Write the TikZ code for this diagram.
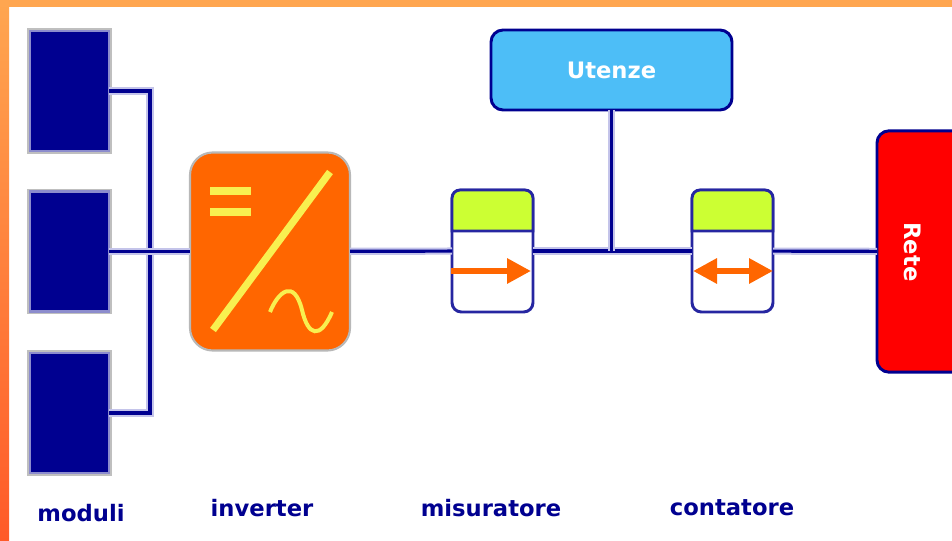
\documentclass[tikz,border=0pt]{standalone}
\usepackage{fontspec}
\setmainfont{DejaVu Sans}
\usetikzlibrary{arrows.meta}
\definecolor{bluNavy}{HTML}{000090}
\definecolor{aloneLine}{HTML}{C4C4EA}
\definecolor{aranInv}{HTML}{FF6600}
\definecolor{gialloInv}{HTML}{F8F050}
\definecolor{verdeMis}{HTML}{CCFF33}
\definecolor{azzUte}{HTML}{4DBEF7}
\definecolor{bordoAlto}{HTML}{FFA650}
\definecolor{bordoBasso}{HTML}{FF5A28}
\tikzset{every picture/.style={line width=0.75pt},
  bus/.style={draw=bluNavy,line width=2.4pt,preaction={draw=aloneLine,line width=5.4pt}},
  modulo/.style={rectangle,fill=bluNavy,draw=bluNavy!45!white,line width=1.6pt,minimum width=59.25pt,minimum height=90pt,inner sep=0pt,outer sep=0pt,preaction={draw=black!25,line width=4pt}},
  contabox/.style={rectangle,rounded corners=7pt,fill=white,draw=bluNavy!85!white,line width=2.2pt,minimum width=60.75pt,minimum height=91.5pt,inner sep=0pt,outer sep=0pt},
  fascia/.style={fill=verdeMis,draw=bluNavy!85!white,line width=2.2pt},
  freccia/.style={draw=aranInv,line width=5pt},
  giallo/.style={draw=gialloInv,line width=5.4pt},
  etichetta/.style={text=bluNavy,inner sep=0pt,font=\bfseries\fontsize{17}{20}\selectfont}}

\begin{document}
\begin{tikzpicture}[x=0.75pt,y=0.75pt,yscale=-1,xscale=1]
\useasboundingbox (0,0) rectangle (952,541);
\fill[white] (0,0) rectangle (952,541);
%Shape: Border
\fill[top color=bordoAlto,bottom color=bordoBasso] (0,0) rectangle (9,541);
\fill[bordoAlto] (0,0) rectangle (952,7);
%Shape: Modules
\node (modulo1) [modulo] at (69.5,91) {};
\node (modulo2) [modulo] at (69.5,251.5) {};
\node (modulo3) [modulo] at (69.5,413) {};
%Shape: Inverter
\node (inverter) [rectangle,rounded corners=17pt,fill=aranInv,draw=black!28,line width=1.6pt,minimum width=120pt,minimum height=148.5pt,inner sep=0pt,outer sep=0pt] at (270,251.5) {};
\draw [giallo] (213,330) -- (330,172);
\draw [giallo,line width=6pt] (210,191) -- (251,191);
\draw [giallo,line width=6pt] (210,212) -- (251,212);
\draw [giallo,line width=3pt] (270,312) .. controls (278,292) and (294,278) .. (302,310) .. controls (308,336) and (320,340) .. (332,312);
%Shape: Meters
\node (misuratore) [contabox] at (492.5,251) {};
\draw [fascia] (452,231) [rounded corners=6pt] -- (452,190) -- (533,190) [sharp corners] -- (533,231) -- cycle;
\node (contatore) [contabox] at (732.5,251) {};
\draw [fascia] (692,231) [rounded corners=6pt] -- (692,190) -- (773,190) [sharp corners] -- (773,231) -- cycle;
%Arrows
\coordinate (misL) at (451,271);
\coordinate (misR) at (531,271);
\coordinate (conL) at (693,271);
\coordinate (conR) at (773,271);
\draw [freccia,-{Triangle[length=18pt,width=18pt]}] (misL) -- (misR);
\draw [freccia,{Triangle[length=18pt,width=18pt]}-{Triangle[length=18pt,width=18pt]}] (conL) -- (conR);
%Shape: Utenze
\node (utenze) [rectangle,rounded corners=9pt,fill=azzUte,draw=bluNavy,line width=2.2pt,minimum width=180.75pt,minimum height=60pt,inner sep=0pt,outer sep=0pt,text=white,font=\bfseries\fontsize{17}{20}\selectfont] at (611.5,70) {Utenze};
%Shape: Rete
\node (rete) [rectangle,rounded corners=9pt,fill=red,draw=bluNavy,line width=2.2pt,minimum width=75pt,minimum height=181pt,inner sep=0pt,outer sep=0pt] at (927,251.5) {};
\node (reteTesto) [rotate=-90,text=white,inner sep=0pt,font=\bfseries\fontsize{17}{20}\selectfont] at (913,252) {Rete};
%Straight Lines
\coordinate (nodoBus) at (150,251.5);
\coordinate (nodoUte) at (611.5,251.5);
\draw [bus] (modulo1) -| (nodoBus);
\draw [bus] (modulo3) -| (nodoBus);
\draw [bus] (modulo2) -- (inverter);
\draw [bus] (inverter) -- (misuratore);
\draw [bus] (misuratore) -- (contatore);
\draw [bus] (contatore) -- (rete);
\draw [bus] (utenze) -- (nodoUte);
% Text Node
\node (labelModuli) [etichetta] at (81,513) {moduli};
% Text Node
\node (labelInverter) [etichetta] at (262,508) {inverter};
% Text Node
\node (labelMisuratore) [etichetta] at (491,508) {misuratore};
% Text Node
\node (labelContatore) [etichetta] at (732,508) {contatore};
\end{tikzpicture}
\end{document}
